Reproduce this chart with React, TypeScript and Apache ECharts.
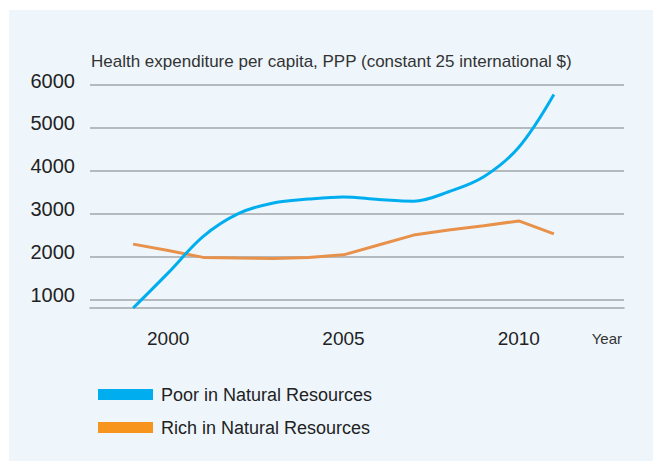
import React, { useEffect, useRef } from "react";
import * as echarts from "echarts";

const years = [1999, 2000, 2001, 2002, 2003, 2004, 2005, 2006, 2007, 2008, 2009, 2010, 2011];
const poorValues = [800, 1620, 2470, 3000, 3250, 3340, 3390, 3330, 3290, 3510, 3860, 4550, 5780];
const richValues = [2290, 2140, 1980, 1965, 1955, 1980, 2040, 2270, 2500, 2620, 2720, 2830, 2530];
const yTicks = [1000, 2000, 3000, 4000, 5000, 6000];
const xTicks = [2000, 2005, 2010];
const seriesNames = ["Poor in Natural Resources", "Rich in Natural Resources"];
const titleText = "Health expenditure per capita, PPP (constant 25 international $)";

const FONT = '"Liberation Sans", Arial, sans-serif';

export default function App() {
  const ref = useRef<HTMLDivElement>(null);
  useEffect(() => {
    if (!ref.current) return;
    const chart = echarts.init(ref.current, undefined, { renderer: "svg" });
    chart.setOption({
      animation: false,
      backgroundColor: "#ffffff",
      graphic: [
        {
          type: "rect",
          left: 9,
          top: 10,
          z: -10,
          shape: { width: 644, height: 451 },
          style: { fill: "#EEF6FC" },
          silent: true,
        },
      ],
      title: {
        text: titleText,
        left: 86,
        top: 48,
        textStyle: { fontFamily: FONT, fontSize: 17, fontWeight: "normal", color: "#333" },
      },
      legend: {
        orient: "vertical",
        left: 93,
        top: 380,
        itemWidth: 55,
        itemHeight: 11,
        itemGap: 14,
        icon: "rect",
        data: seriesNames,
        textStyle: { fontFamily: FONT, fontSize: 18, color: "#222", lineHeight: 19, padding: [0, 0, 0, 3] },
      },
      grid: { left: 90, right: 29, top: 85, bottom: 153, containLabel: false },
      xAxis: {
        type: "value",
        min: 1997.77,
        max: 2013,
        name: "Year",
        nameLocation: "end",
        nameGap: -2,
        nameTextStyle: { fontFamily: FONT, fontSize: 15, color: "#333", align: "right", verticalAlign: "top", padding: [23, 0, 0, 0] },
        axisLine: { show: true, lineStyle: { color: "#A2A6AA", width: 1.5 } },
        axisTick: { show: false },
        splitLine: { show: false },
        axisLabel: {
          customValues: xTicks,
          formatter: (v: number) => String(Math.round(v)),
          fontFamily: FONT,
          fontSize: 19,
          color: "#222",
          margin: 21,
        },
      },
      yAxis: {
        type: "value",
        min: 800,
        max: 6000,
        axisLine: { show: false },
        axisTick: { show: false, customValues: yTicks },
        splitLine: { show: true, lineStyle: { color: "#A2A6AA", width: 1.5 } },
        axisLabel: {
          customValues: yTicks,
          formatter: (v: number) => String(Math.round(v)),
          fontFamily: FONT,
          fontSize: 20,
          color: "#222",
          margin: 15,
          verticalAlign: "bottom",
          lineHeight: 9,
        },
      },
      series: [
        {
          name: seriesNames[0],
          type: "line",
          data: years.map((y, i) => [y, poorValues[i]]),
          smooth: 0.35,
          showSymbol: false,
          symbol: "none",
          lineStyle: { color: "#00AEEF", width: 3 },
          itemStyle: { color: "#00AEEF" },
          z: 3,
        },
        {
          name: seriesNames[1],
          type: "line",
          data: years.map((y, i) => [y, richValues[i]]),
          smooth: false,
          showSymbol: false,
          symbol: "none",
          lineStyle: { color: "#E8914B", width: 3 },
          itemStyle: { color: "#F7941D" },
          z: 2,
        },
      ],
    });
    return () => chart.dispose();
  }, []);
  return (
    <div
      ref={ref}
      style={{ position: "fixed", left: 0, top: 0, width: 653, height: 461 }}
    />
  );
}
